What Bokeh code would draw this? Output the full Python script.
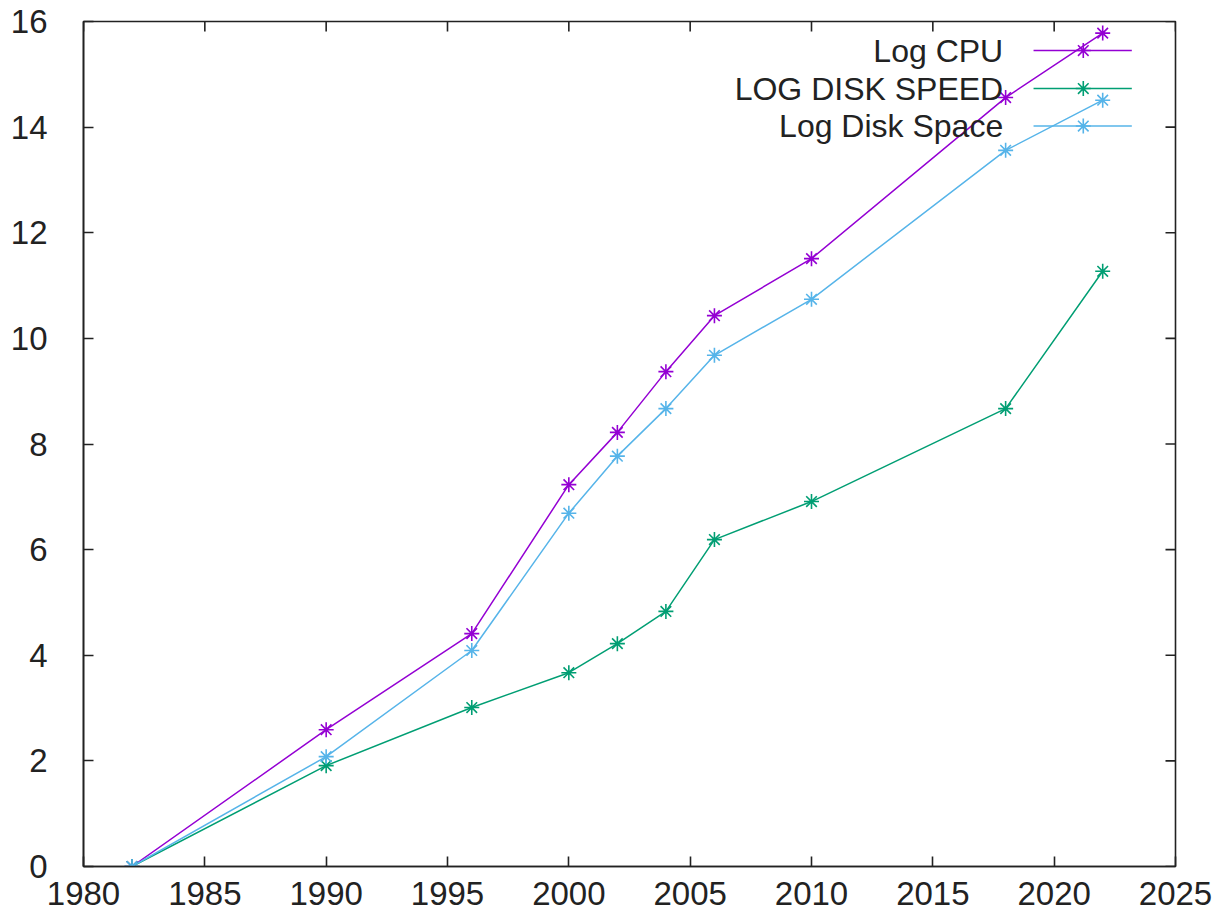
from bokeh.plotting import figure
from bokeh.models import FixedTicker, Range1d
from bokeh.core.properties import value
from bokeh.embed import file_html
from bokeh.resources import INLINE

years = [1982, 1990, 1996, 2000, 2002, 2004, 2006, 2010, 2018, 2022]
log_cpu = [0, 2.59, 4.41, 7.23, 8.22, 9.37, 10.43, 11.51, 14.56, 15.78]
log_disk_speed = [0, 1.91, 3.01, 3.67, 4.22, 4.83, 6.19, 6.91, 8.67, 11.27]
log_disk_space = [0, 2.08, 4.09, 6.69, 7.77, 8.67, 9.68, 10.74, 13.56, 14.51]

series_names = ["Log CPU", "LOG DISK SPEED", "Log Disk Space"]
colors = ["#9400d3", "#009e73", "#56b4e9"]
x_ticks = [1980, 1985, 1990, 1995, 2000, 2005, 2010, 2015, 2020, 2025]
y_ticks = [0, 2, 4, 6, 8, 10, 12, 14, 16]

FONT = "Liberation Sans"
FS = "33px"
LEG_FS = "32px"
INK = "#222222"
X0, X1, Y0, Y1 = 1980, 2025, 0, 16

p = figure(width=1220, height=919, output_backend="svg", toolbar_location=None,
           x_range=Range1d(X0, X1), y_range=Range1d(Y0, Y1),
           min_border_left=83, min_border_right=45, min_border_top=21, min_border_bottom=53)
p.grid.visible = False
p.outline_line_color = INK
p.outline_line_width = 1.6

for ax in (p.xaxis[0], p.yaxis[0]):
    ax.axis_line_color = INK
    ax.axis_line_width = 1.6
    ax.major_tick_line_color = INK
    ax.major_tick_line_width = 1.6
    ax.major_tick_in = 10
    ax.major_tick_out = 0
    ax.minor_tick_line_color = None
    ax.major_label_text_font = FONT
    ax.major_label_text_font_size = FS
    ax.major_label_text_color = INK
p.xaxis.ticker = FixedTicker(ticks=x_ticks)
p.yaxis.ticker = FixedTicker(ticks=y_ticks)
p.xaxis.major_label_standoff = 15
p.yaxis.major_label_standoff = 36

# mirrored ticks on top and right edges (gnuplot style)
tick_dy = 10 * (Y1 - Y0) / (919 - 21 - 53)
tick_dx = 10 * (X1 - X0) / (1220 - 83 - 45)
p.segment(x_ticks, [Y1] * len(x_ticks), x_ticks, [Y1 - tick_dy] * len(x_ticks),
          line_color=INK, line_width=1.6)
p.segment([X1] * len(y_ticks), y_ticks, [X1 - tick_dx] * len(y_ticks), y_ticks,
          line_color=INK, line_width=1.6)

all_series = [log_cpu, log_disk_speed, log_disk_space]
for vals, c in zip(all_series, colors):
    p.line(years, vals, line_color=c, line_width=1.5)
    p.scatter(years, vals, marker="asterisk", size=15, line_color=c, line_width=1.6)

# manual legend (text left, sample right), gnuplot style
leg_text_x = 2017.9
leg_x0, leg_x1, leg_xm = 2019.15, 2023.2, 2021.2
leg_rows = [15.45, 14.73, 14.02]
p.text([leg_text_x] * 3, leg_rows, text=series_names, text_align="right",
       text_baseline="middle", text_font=value(FONT), text_font_size=LEG_FS,
       text_color=INK)
for yv, c in zip(leg_rows, colors):
    p.line([leg_x0, leg_x1], [yv, yv], line_color=c, line_width=1.5)
    p.scatter([leg_xm], [yv], marker="asterisk", size=15, line_color=c, line_width=1.6)

open("out.html", "w").write(file_html(p, INLINE))
